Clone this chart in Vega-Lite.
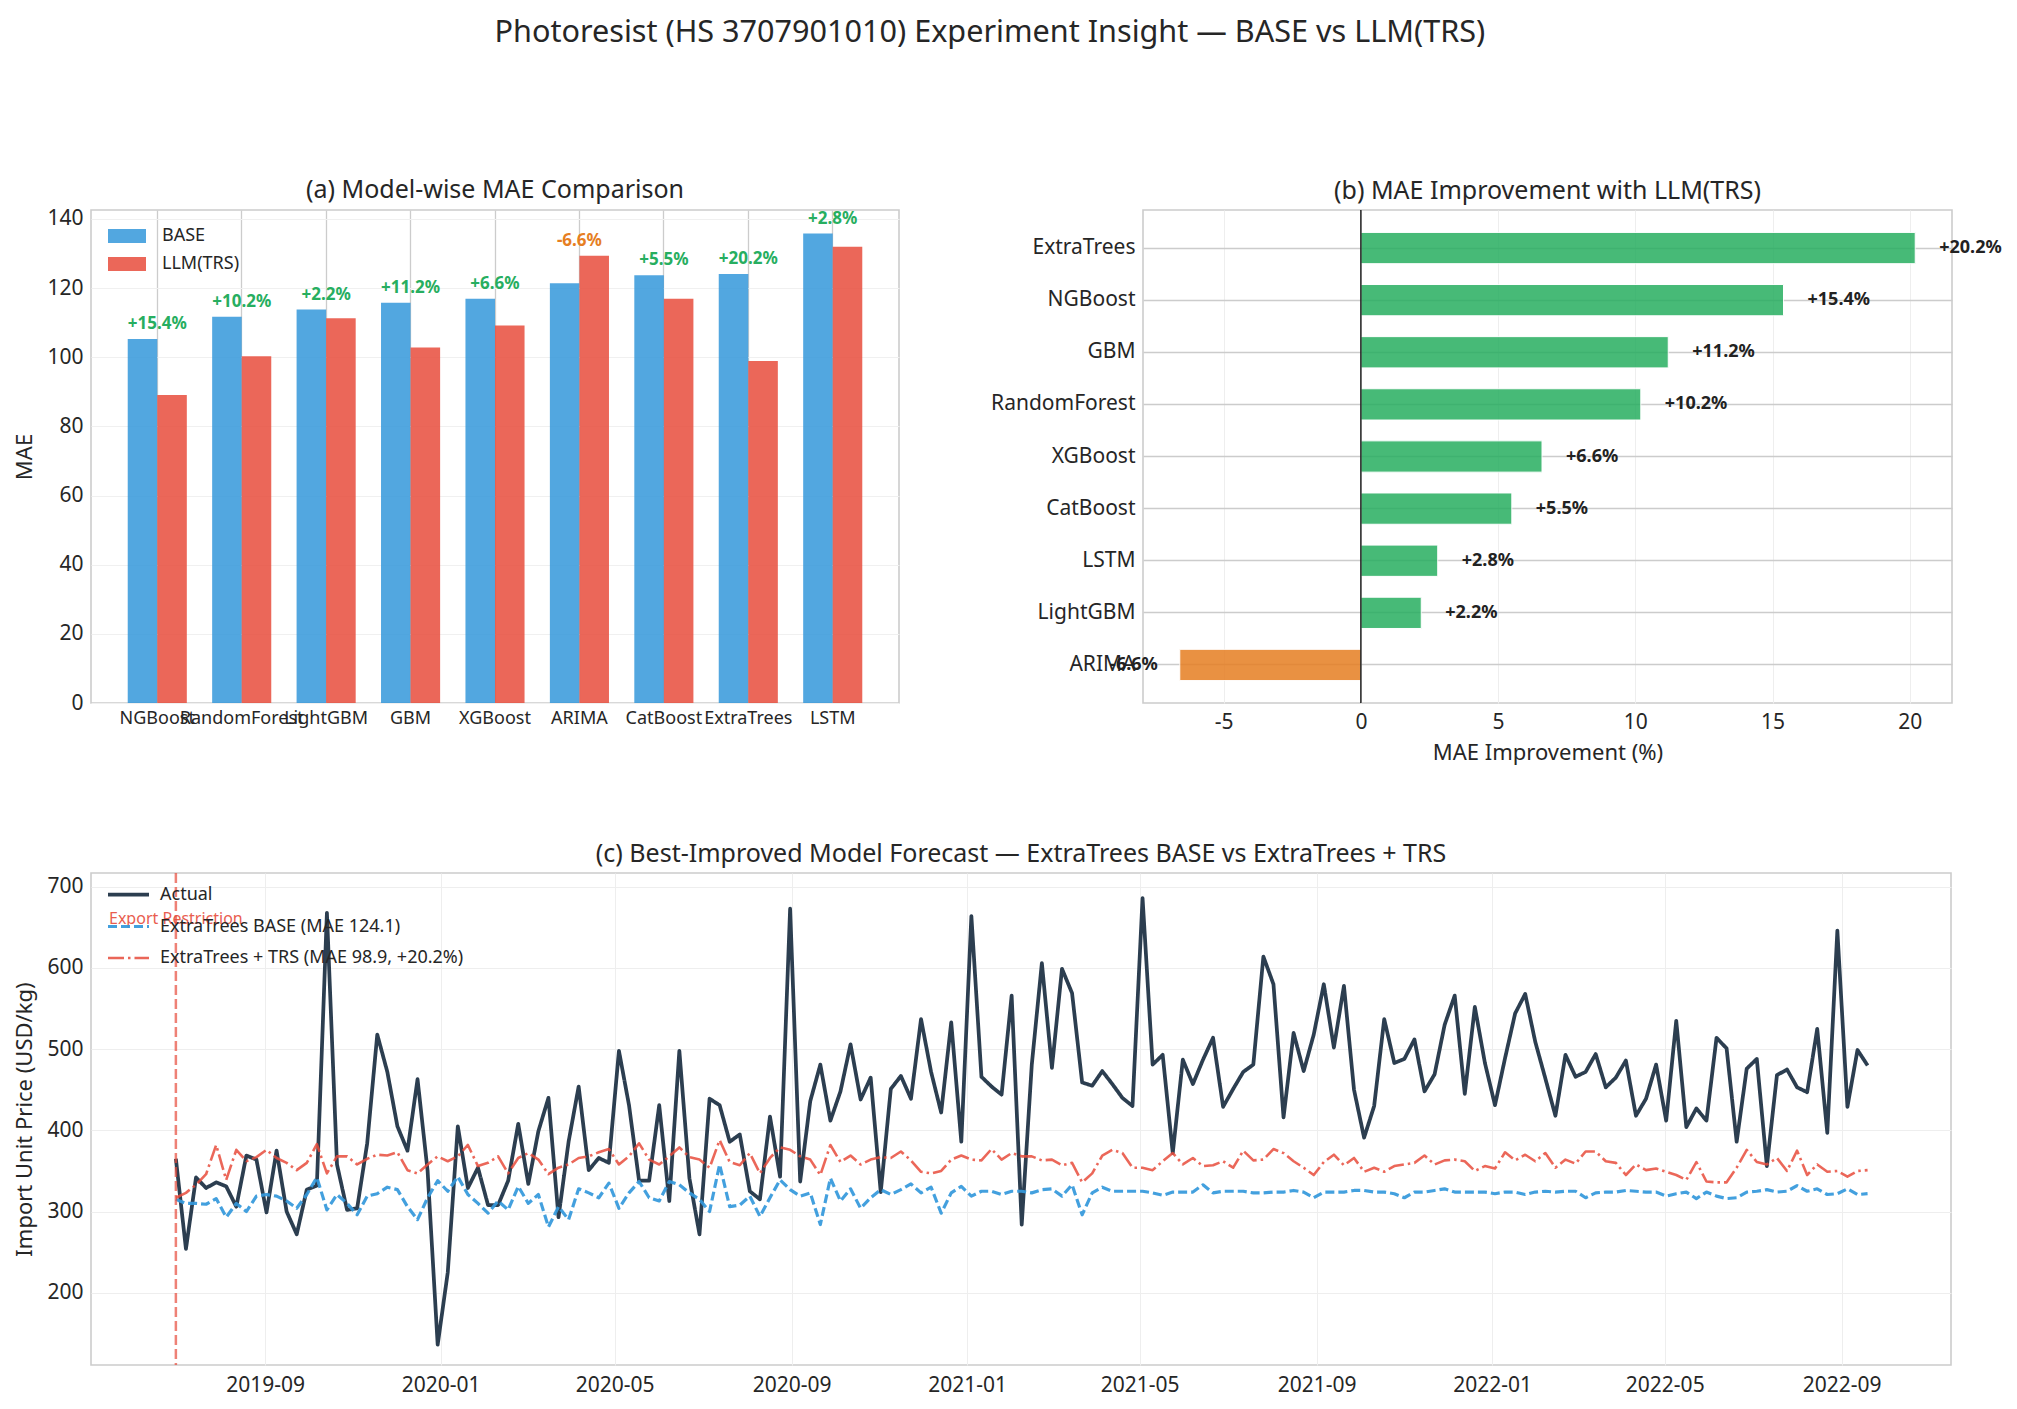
{
  "$schema": "https://vega.github.io/schema/vega-lite/v6.json",
  "background": "white",
  "padding": {"left": 13, "top": 17, "right": 5, "bottom": 5},
  "title": {
    "text": "Photoresist (HS 3707901010) Experiment Insight — BASE vs LLM(TRS)",
    "fontSize": 30.6, "fontWeight": "normal", "color": "#262626",
    "anchor": "middle", "offset": 129, "dx": -18
  },
  "config": {
    "font": "Noto Sans",
    "view": {"stroke": "#cccccc", "strokeWidth": 1.6},
    "axis": {
      "domain": false, "ticks": false,
      "labelFontSize": 21, "titleFontSize": 22,
      "labelColor": "#262626", "titleColor": "#262626",
      "titleFontWeight": "normal", "gridColor": "#eeeeee", "gridWidth": 1,
      "labelPadding": 8, "titlePadding": 10
    },
    "title": {"fontSize": 25, "fontWeight": "normal", "color": "#262626", "offset": 5, "anchor": "middle"},
    "legend": {"padding": 0, "labelColor": "#262626", "labelFontSize": 18, "labelLimit": 0, "title": null}
  },
  "datasets": {
    "models": [
      {"model": "NGBoost", "base": 105.3, "trs": 89.1, "pct": 15.4},
      {"model": "RandomForest", "base": 111.7, "trs": 100.3, "pct": 10.2},
      {"model": "LightGBM", "base": 113.8, "trs": 111.3, "pct": 2.2},
      {"model": "GBM", "base": 115.8, "trs": 102.8, "pct": 11.2},
      {"model": "XGBoost", "base": 116.9, "trs": 109.2, "pct": 6.6},
      {"model": "ARIMA", "base": 121.4, "trs": 129.4, "pct": -6.6},
      {"model": "CatBoost", "base": 123.7, "trs": 116.9, "pct": 5.5},
      {"model": "ExtraTrees", "base": 124.1, "trs": 98.9, "pct": 20.2},
      {"model": "LSTM", "base": 135.8, "trs": 132.0, "pct": 2.8}
    ],
    "weekly": [
      {"date": "2019-07-01", "actual": 365, "base": 315, "trs": 317},
      {"date": "2019-07-08", "actual": 254, "base": 310, "trs": 323},
      {"date": "2019-07-15", "actual": 342, "base": 310, "trs": 333},
      {"date": "2019-07-22", "actual": 329, "base": 309, "trs": 346},
      {"date": "2019-07-29", "actual": 336, "base": 316, "trs": 382},
      {"date": "2019-08-05", "actual": 331, "base": 293, "trs": 339},
      {"date": "2019-08-12", "actual": 306, "base": 310, "trs": 376},
      {"date": "2019-08-19", "actual": 369, "base": 300, "trs": 362},
      {"date": "2019-08-26", "actual": 364, "base": 319, "trs": 367},
      {"date": "2019-09-02", "actual": 299, "base": 321, "trs": 376},
      {"date": "2019-09-09", "actual": 375, "base": 319, "trs": 366},
      {"date": "2019-09-16", "actual": 300, "base": 313, "trs": 360},
      {"date": "2019-09-23", "actual": 272, "base": 304, "trs": 351},
      {"date": "2019-09-30", "actual": 327, "base": 321, "trs": 360},
      {"date": "2019-10-07", "actual": 332, "base": 342, "trs": 383},
      {"date": "2019-10-14", "actual": 668, "base": 302, "trs": 347},
      {"date": "2019-10-21", "actual": 358, "base": 321, "trs": 368},
      {"date": "2019-10-28", "actual": 302, "base": 310, "trs": 368},
      {"date": "2019-11-04", "actual": 304, "base": 296, "trs": 358},
      {"date": "2019-11-11", "actual": 384, "base": 319, "trs": 365},
      {"date": "2019-11-18", "actual": 518, "base": 322, "trs": 370},
      {"date": "2019-11-25", "actual": 472, "base": 330, "trs": 369},
      {"date": "2019-12-02", "actual": 405, "base": 327, "trs": 373},
      {"date": "2019-12-09", "actual": 375, "base": 306, "trs": 351},
      {"date": "2019-12-16", "actual": 463, "base": 290, "trs": 347},
      {"date": "2019-12-23", "actual": 350, "base": 317, "trs": 358},
      {"date": "2019-12-30", "actual": 136, "base": 338, "trs": 368},
      {"date": "2020-01-06", "actual": 225, "base": 325, "trs": 362},
      {"date": "2020-01-13", "actual": 405, "base": 343, "trs": 368},
      {"date": "2020-01-20", "actual": 329, "base": 321, "trs": 382},
      {"date": "2020-01-27", "actual": 354, "base": 310, "trs": 356},
      {"date": "2020-02-03", "actual": 308, "base": 298, "trs": 360},
      {"date": "2020-02-10", "actual": 308, "base": 313, "trs": 368},
      {"date": "2020-02-17", "actual": 338, "base": 302, "trs": 347},
      {"date": "2020-02-24", "actual": 408, "base": 331, "trs": 366},
      {"date": "2020-03-02", "actual": 334, "base": 310, "trs": 372},
      {"date": "2020-03-09", "actual": 399, "base": 321, "trs": 364},
      {"date": "2020-03-16", "actual": 440, "base": 281, "trs": 346},
      {"date": "2020-03-23", "actual": 293, "base": 306, "trs": 354},
      {"date": "2020-03-30", "actual": 386, "base": 290, "trs": 358},
      {"date": "2020-04-06", "actual": 454, "base": 328, "trs": 366},
      {"date": "2020-04-13", "actual": 351, "base": 323, "trs": 368},
      {"date": "2020-04-20", "actual": 366, "base": 317, "trs": 373},
      {"date": "2020-04-27", "actual": 360, "base": 335, "trs": 377},
      {"date": "2020-05-04", "actual": 498, "base": 304, "trs": 358},
      {"date": "2020-05-11", "actual": 431, "base": 323, "trs": 368},
      {"date": "2020-05-18", "actual": 338, "base": 337, "trs": 384},
      {"date": "2020-05-25", "actual": 338, "base": 317, "trs": 364},
      {"date": "2020-06-01", "actual": 431, "base": 313, "trs": 358},
      {"date": "2020-06-08", "actual": 313, "base": 337, "trs": 368},
      {"date": "2020-06-15", "actual": 498, "base": 333, "trs": 379},
      {"date": "2020-06-22", "actual": 341, "base": 323, "trs": 367},
      {"date": "2020-06-29", "actual": 272, "base": 315, "trs": 364},
      {"date": "2020-07-06", "actual": 439, "base": 300, "trs": 354},
      {"date": "2020-07-13", "actual": 431, "base": 358, "trs": 388},
      {"date": "2020-07-20", "actual": 386, "base": 306, "trs": 361},
      {"date": "2020-07-27", "actual": 395, "base": 308, "trs": 357},
      {"date": "2020-08-03", "actual": 325, "base": 319, "trs": 372},
      {"date": "2020-08-10", "actual": 315, "base": 294, "trs": 347},
      {"date": "2020-08-17", "actual": 417, "base": 317, "trs": 366},
      {"date": "2020-08-24", "actual": 343, "base": 339, "trs": 379},
      {"date": "2020-08-31", "actual": 673, "base": 327, "trs": 376},
      {"date": "2020-09-07", "actual": 337, "base": 319, "trs": 368},
      {"date": "2020-09-14", "actual": 436, "base": 323, "trs": 364},
      {"date": "2020-09-21", "actual": 481, "base": 284, "trs": 345},
      {"date": "2020-09-28", "actual": 412, "base": 341, "trs": 382},
      {"date": "2020-10-05", "actual": 448, "base": 313, "trs": 361},
      {"date": "2020-10-12", "actual": 506, "base": 328, "trs": 369},
      {"date": "2020-10-19", "actual": 438, "base": 304, "trs": 358},
      {"date": "2020-10-26", "actual": 465, "base": 317, "trs": 364},
      {"date": "2020-11-02", "actual": 324, "base": 327, "trs": 367},
      {"date": "2020-11-09", "actual": 451, "base": 321, "trs": 366},
      {"date": "2020-11-16", "actual": 467, "base": 327, "trs": 374},
      {"date": "2020-11-23", "actual": 439, "base": 334, "trs": 363},
      {"date": "2020-11-30", "actual": 537, "base": 323, "trs": 349},
      {"date": "2020-12-07", "actual": 472, "base": 330, "trs": 347},
      {"date": "2020-12-14", "actual": 422, "base": 298, "trs": 350},
      {"date": "2020-12-21", "actual": 533, "base": 323, "trs": 364},
      {"date": "2020-12-28", "actual": 386, "base": 331, "trs": 369},
      {"date": "2021-01-04", "actual": 664, "base": 319, "trs": 364},
      {"date": "2021-01-11", "actual": 466, "base": 325, "trs": 363},
      {"date": "2021-01-18", "actual": 454, "base": 325, "trs": 377},
      {"date": "2021-01-25", "actual": 444, "base": 321, "trs": 364},
      {"date": "2021-02-01", "actual": 566, "base": 325, "trs": 372},
      {"date": "2021-02-08", "actual": 284, "base": 325, "trs": 368},
      {"date": "2021-02-15", "actual": 481, "base": 323, "trs": 368},
      {"date": "2021-02-22", "actual": 606, "base": 327, "trs": 363},
      {"date": "2021-03-01", "actual": 477, "base": 328, "trs": 364},
      {"date": "2021-03-08", "actual": 599, "base": 319, "trs": 357},
      {"date": "2021-03-15", "actual": 569, "base": 333, "trs": 360},
      {"date": "2021-03-22", "actual": 459, "base": 296, "trs": 336},
      {"date": "2021-03-29", "actual": 455, "base": 323, "trs": 347},
      {"date": "2021-04-05", "actual": 473, "base": 330, "trs": 369},
      {"date": "2021-04-12", "actual": 457, "base": 325, "trs": 376},
      {"date": "2021-04-19", "actual": 440, "base": 325, "trs": 372},
      {"date": "2021-04-26", "actual": 430, "base": 325, "trs": 354},
      {"date": "2021-05-03", "actual": 686, "base": 325, "trs": 354},
      {"date": "2021-05-10", "actual": 481, "base": 323, "trs": 351},
      {"date": "2021-05-17", "actual": 493, "base": 320, "trs": 362},
      {"date": "2021-05-24", "actual": 372, "base": 324, "trs": 372},
      {"date": "2021-05-31", "actual": 487, "base": 324, "trs": 358},
      {"date": "2021-06-07", "actual": 457, "base": 324, "trs": 366},
      {"date": "2021-06-14", "actual": 487, "base": 333, "trs": 356},
      {"date": "2021-06-21", "actual": 514, "base": 323, "trs": 357},
      {"date": "2021-06-28", "actual": 429, "base": 325, "trs": 362},
      {"date": "2021-07-05", "actual": 451, "base": 325, "trs": 354},
      {"date": "2021-07-12", "actual": 472, "base": 325, "trs": 375},
      {"date": "2021-07-19", "actual": 481, "base": 323, "trs": 363},
      {"date": "2021-07-26", "actual": 614, "base": 323, "trs": 364},
      {"date": "2021-08-02", "actual": 580, "base": 324, "trs": 377},
      {"date": "2021-08-09", "actual": 416, "base": 324, "trs": 372},
      {"date": "2021-08-16", "actual": 520, "base": 326, "trs": 362},
      {"date": "2021-08-23", "actual": 473, "base": 324, "trs": 354},
      {"date": "2021-08-30", "actual": 518, "base": 317, "trs": 345},
      {"date": "2021-09-06", "actual": 580, "base": 324, "trs": 361},
      {"date": "2021-09-13", "actual": 502, "base": 324, "trs": 370},
      {"date": "2021-09-20", "actual": 578, "base": 324, "trs": 357},
      {"date": "2021-09-27", "actual": 450, "base": 326, "trs": 366},
      {"date": "2021-10-04", "actual": 391, "base": 326, "trs": 349},
      {"date": "2021-10-11", "actual": 430, "base": 324, "trs": 354},
      {"date": "2021-10-18", "actual": 537, "base": 324, "trs": 349},
      {"date": "2021-10-25", "actual": 483, "base": 322, "trs": 356},
      {"date": "2021-11-01", "actual": 488, "base": 317, "trs": 358},
      {"date": "2021-11-08", "actual": 512, "base": 324, "trs": 360},
      {"date": "2021-11-15", "actual": 448, "base": 324, "trs": 369},
      {"date": "2021-11-22", "actual": 469, "base": 326, "trs": 358},
      {"date": "2021-11-29", "actual": 530, "base": 328, "trs": 363},
      {"date": "2021-12-06", "actual": 566, "base": 324, "trs": 364},
      {"date": "2021-12-13", "actual": 445, "base": 324, "trs": 362},
      {"date": "2021-12-20", "actual": 552, "base": 324, "trs": 350},
      {"date": "2021-12-27", "actual": 483, "base": 324, "trs": 356},
      {"date": "2022-01-03", "actual": 431, "base": 322, "trs": 353},
      {"date": "2022-01-10", "actual": 489, "base": 324, "trs": 373},
      {"date": "2022-01-17", "actual": 544, "base": 324, "trs": 363},
      {"date": "2022-01-24", "actual": 568, "base": 321, "trs": 370},
      {"date": "2022-01-31", "actual": 509, "base": 324, "trs": 362},
      {"date": "2022-02-07", "actual": 464, "base": 325, "trs": 372},
      {"date": "2022-02-14", "actual": 418, "base": 324, "trs": 354},
      {"date": "2022-02-21", "actual": 493, "base": 325, "trs": 364},
      {"date": "2022-02-28", "actual": 466, "base": 325, "trs": 359},
      {"date": "2022-03-07", "actual": 472, "base": 317, "trs": 374},
      {"date": "2022-03-14", "actual": 494, "base": 323, "trs": 374},
      {"date": "2022-03-21", "actual": 453, "base": 324, "trs": 362},
      {"date": "2022-03-28", "actual": 465, "base": 324, "trs": 360},
      {"date": "2022-04-04", "actual": 486, "base": 326, "trs": 345},
      {"date": "2022-04-11", "actual": 418, "base": 325, "trs": 358},
      {"date": "2022-04-18", "actual": 439, "base": 324, "trs": 351},
      {"date": "2022-04-25", "actual": 481, "base": 324, "trs": 353},
      {"date": "2022-05-02", "actual": 412, "base": 319, "trs": 349},
      {"date": "2022-05-09", "actual": 535, "base": 322, "trs": 345},
      {"date": "2022-05-16", "actual": 404, "base": 324, "trs": 339},
      {"date": "2022-05-23", "actual": 427, "base": 316, "trs": 361},
      {"date": "2022-05-30", "actual": 412, "base": 324, "trs": 337},
      {"date": "2022-06-06", "actual": 514, "base": 319, "trs": 336},
      {"date": "2022-06-13", "actual": 501, "base": 316, "trs": 336},
      {"date": "2022-06-20", "actual": 386, "base": 317, "trs": 354},
      {"date": "2022-06-27", "actual": 476, "base": 324, "trs": 376},
      {"date": "2022-07-04", "actual": 488, "base": 325, "trs": 361},
      {"date": "2022-07-11", "actual": 356, "base": 327, "trs": 358},
      {"date": "2022-07-18", "actual": 468, "base": 324, "trs": 366},
      {"date": "2022-07-25", "actual": 475, "base": 325, "trs": 350},
      {"date": "2022-08-01", "actual": 453, "base": 332, "trs": 375},
      {"date": "2022-08-08", "actual": 447, "base": 325, "trs": 345},
      {"date": "2022-08-15", "actual": 525, "base": 328, "trs": 358},
      {"date": "2022-08-22", "actual": 397, "base": 321, "trs": 349},
      {"date": "2022-08-29", "actual": 646, "base": 322, "trs": 350},
      {"date": "2022-09-05", "actual": 429, "base": 328, "trs": 343},
      {"date": "2022-09-12", "actual": 499, "base": 321, "trs": 350},
      {"date": "2022-09-19", "actual": 480, "base": 322, "trs": 351}
    ]
  },
  "spacing": 76,
  "resolve": {
    "scale": {"color": "independent", "strokeDash": "independent", "strokeWidth": "independent", "opacity": "independent"},
    "legend": {"color": "independent", "strokeDash": "independent", "strokeWidth": "independent", "opacity": "independent"}
  },
  "vconcat": [
    {
      "spacing": 89,
      "resolve": {"scale": {"color": "independent"}, "legend": {"color": "independent"}},
      "hconcat": [
        {
          "width": 808, "height": 493,
          "title": "(a) Model-wise MAE Comparison",
          "data": {"name": "models"},
          "layer": [
            {
              "transform": [{"fold": ["base", "trs"], "as": ["kind", "mae"]}],
              "mark": {"type": "bar", "opacity": 0.85},
              "encoding": {
                "x": {
                  "field": "model", "type": "nominal",
                  "sort": ["NGBoost", "RandomForest", "LightGBM", "GBM", "XGBoost", "ARIMA", "CatBoost", "ExtraTrees", "LSTM"],
                  "scale": {"paddingInner": 0, "paddingOuter": 0.285},
                  "axis": {"title": null, "labelAngle": 0, "labelFontSize": 18, "labelPadding": 6, "bandPosition": 0.5, "grid": true, "gridColor": "#cccccc", "gridWidth": 1.3}
                },
                "xOffset": {
                  "field": "kind", "type": "nominal",
                  "scale": {"domain": ["base", "trs"], "paddingInner": 0, "paddingOuter": 0.4286}
                },
                "y": {
                  "field": "mae", "type": "quantitative",
                  "scale": {"domain": [0, 142.6], "nice": false},
                  "axis": {"title": "MAE", "values": [0, 20, 40, 60, 80, 100, 120, 140], "gridColor": "#f0f0f0"}
                },
                "color": {
                  "field": "kind", "type": "nominal",
                  "scale": {"domain": ["base", "trs"], "range": ["#3498db", "#e74c3c"]},
                  "legend": {
                    "orient": "none", "legendX": 17, "legendY": 7,
                    "labelExpr": "datum.value == 'base' ? 'BASE' : 'LLM(TRS)'",
                    "symbolType": "M-1,-0.37H1V0.37H-1Z", "symbolSize": 1444,
                    "symbolOpacity": 0.85, "symbolStrokeWidth": 0,
                    "labelOffset": 16, "rowPadding": -1
                  }
                }
              }
            },
            {
              "transform": [
                {"calculate": "max(datum.base, datum.trs)", "as": "top"},
                {"calculate": "(datum.pct > 0 ? '+' : '') + replace(format(datum.pct, '.1f'), '−', '-') + '%'", "as": "label"}
              ],
              "mark": {"type": "text", "fontWeight": "bold", "fontSize": 17, "baseline": "alphabetic", "dy": -10},
              "encoding": {
                "x": {"field": "model", "type": "nominal", "sort": ["NGBoost", "RandomForest", "LightGBM", "GBM", "XGBoost", "ARIMA", "CatBoost", "ExtraTrees", "LSTM"]},
                "y": {"field": "top", "type": "quantitative"},
                "text": {"field": "label"},
                "color": {"condition": {"test": "datum.pct < 0", "value": "#e67e22"}, "value": "#27ae60"}
              }
            }
          ]
        },
        {
          "width": 809, "height": 493,
          "title": "(b) MAE Improvement with LLM(TRS)",
          "data": {"name": "models"},
          "transform": [
            {"calculate": "(datum.pct > 0 ? '+' : '') + replace(format(datum.pct, '.1f'), '−', '-') + '%'", "as": "label"}
          ],
          "encoding": {
            "y": {
              "field": "model", "type": "nominal",
              "sort": ["ExtraTrees", "NGBoost", "GBM", "RandomForest", "XGBoost", "CatBoost", "LSTM", "LightGBM", "ARIMA"],
              "scale": {"paddingInner": 0.4, "paddingOuter": 0.43},
              "axis": {"title": null, "grid": true, "gridColor": "#cccccc", "gridWidth": 1.6, "bandPosition": 0.5, "labelFontSize": 21}
            }
          },
          "layer": [
            {
              "mark": {"type": "bar", "opacity": 0.85, "stroke": "white", "strokeWidth": 1},
              "encoding": {
                "x": {
                  "field": "pct", "type": "quantitative",
                  "scale": {"domain": [-7.94, 21.54], "nice": false, "zero": false},
                  "axis": {"title": "MAE Improvement (%)", "values": [-5, 0, 5, 10, 15, 20], "labelExpr": "'' + datum.value", "gridColor": "#eeeeee"}
                },
                "color": {"condition": {"test": "datum.pct < 0", "value": "#e67e22"}, "value": "#27ae60"}
              }
            },
            {
              "data": {"values": [{}]},
              "mark": {"type": "rule", "color": "#000000", "strokeWidth": 1.3},
              "encoding": {"x": {"datum": 0, "type": "quantitative"}, "y": null}
            },
            {
              "transform": [{"filter": "datum.pct >= 0"}],
              "mark": {"type": "text", "fontWeight": "bold", "fontSize": 18, "align": "left", "baseline": "middle", "dx": 24, "color": "#222222"},
              "encoding": {
                "x": {"field": "pct", "type": "quantitative"},
                "text": {"field": "label"}
              }
            },
            {
              "transform": [{"filter": "datum.pct < 0"}],
              "mark": {"type": "text", "fontWeight": "bold", "fontSize": 18, "align": "right", "baseline": "middle", "dx": -22, "color": "#222222"},
              "encoding": {
                "x": {"field": "pct", "type": "quantitative"},
                "text": {"field": "label"}
              }
            }
          ]
        }
      ]
    },
    {
      "width": 1860, "height": 492,
      "title": "(c) Best-Improved Model Forecast — ExtraTrees BASE vs ExtraTrees + TRS",
      "layer": [
        {
          "data": {"name": "weekly"},
          "transform": [{"fold": ["actual", "base", "trs"], "as": ["series", "price"]}],
          "mark": {"type": "line", "strokeJoin": "round"},
          "encoding": {
            "x": {
              "field": "date", "type": "temporal",
              "scale": {"domain": [{"year": 2019, "month": 5, "date": 3}, {"year": 2022, "month": 11, "date": 16}]},
              "axis": {
                "title": null, "format": "%Y-%m", "labelPadding": 9,
                "values": [
                  {"year": 2019, "month": 9, "date": 1}, {"year": 2020, "month": 1, "date": 1},
                  {"year": 2020, "month": 5, "date": 1}, {"year": 2020, "month": 9, "date": 1},
                  {"year": 2021, "month": 1, "date": 1}, {"year": 2021, "month": 5, "date": 1},
                  {"year": 2021, "month": 9, "date": 1}, {"year": 2022, "month": 1, "date": 1},
                  {"year": 2022, "month": 5, "date": 1}, {"year": 2022, "month": 9, "date": 1}
                ]
              }
            },
            "y": {
              "field": "price", "type": "quantitative",
              "scale": {"domain": [111, 717], "nice": false, "zero": false},
              "axis": {"title": "Import Unit Price (USD/kg)", "values": [200, 300, 400, 500, 600, 700]}
            },
            "color": {
              "field": "series", "type": "nominal",
              "scale": {"domain": ["actual", "base", "trs"], "range": ["#2c3e50", "#3498db", "#e74c3c"]},
              "legend": {
                "orient": "none", "legendX": 15, "legendY": -1,
                "labelExpr": "{'actual': 'Actual', 'base': 'ExtraTrees BASE (MAE 124.1)', 'trs': 'ExtraTrees + TRS (MAE 98.9, +20.2%)'}[datum.value]",
                "symbolType": "stroke", "symbolSize": 1681,
                "labelOffset": 9, "rowPadding": -8
              }
            },
            "strokeDash": {
              "field": "series", "type": "nominal",
              "scale": {"domain": ["actual", "base", "trs"], "range": [[1, 0], [9, 4], [16, 4, 2.5, 4]]}
            },
            "strokeWidth": {
              "field": "series", "type": "nominal",
              "scale": {"domain": ["actual", "base", "trs"], "range": [3.75, 2.6, 2.6]}
            },
            "opacity": {
              "field": "series", "type": "nominal",
              "scale": {"domain": ["actual", "base", "trs"], "range": [1, 0.85, 0.85]}
            }
          }
        },
        {
          "data": {"values": [{"event": "Export Restriction", "date": "2019-07-01"}]},
          "mark": {"type": "rule", "color": "#e74c3c", "opacity": 0.7, "strokeDash": [10, 4], "strokeWidth": 2.5},
          "encoding": {"x": {"field": "date", "type": "temporal"}}
        },
        {
          "data": {"values": [{"event": "Export Restriction", "date": "2019-07-01"}]},
          "mark": {"type": "text", "fontSize": 16, "fontWeight": "normal", "color": "#e74c3c", "opacity": 0.9, "align": "center", "baseline": "middle"},
          "encoding": {
            "x": {"field": "date", "type": "temporal"},
            "y": {"datum": 660, "type": "quantitative"},
            "text": {"field": "event"}
          }
        }
      ]
    }
  ]
}
